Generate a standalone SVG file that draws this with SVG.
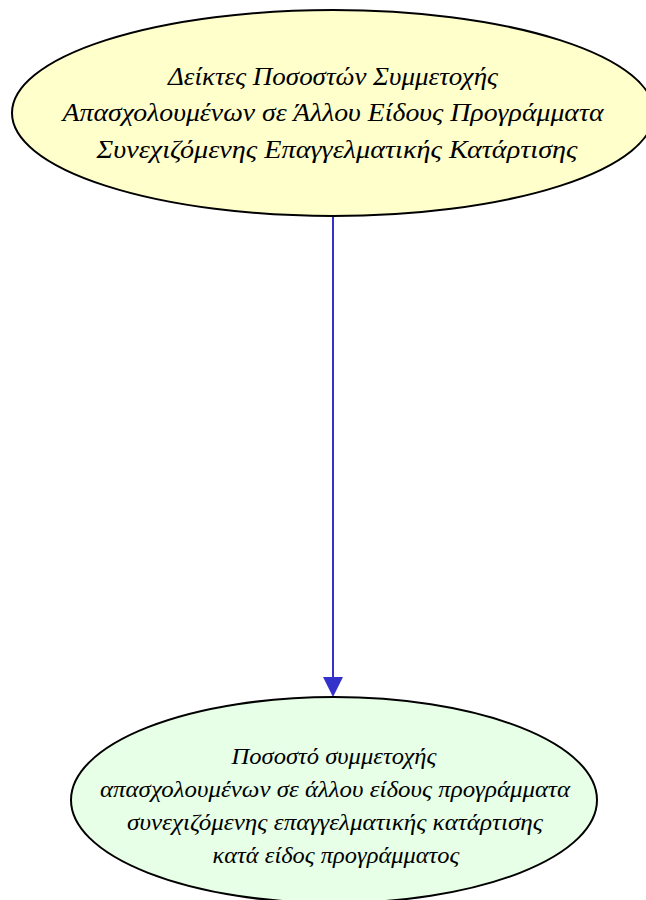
<svg xmlns="http://www.w3.org/2000/svg" width="646" height="900" viewBox="0 0 646 900">
<defs>
<style>
.node{stroke:#000;stroke-width:2}
.lbl{font-family:"Liberation Serif","DejaVu Serif",serif;font-style:italic;fill:#000;text-anchor:middle}
.edge{stroke:#3333cc;stroke-width:2;fill:none}
</style>
</defs>
<rect width="646" height="900" fill="#fff"/>
<g id="connectors">
<line class="edge" x1="333" y1="216" x2="333" y2="678"/>
<path d="M323,677 L343,677 L333,697 Z" fill="#3333cc"/>
</g>
<g id="node1">
<ellipse class="node" cx="333" cy="113" rx="321" ry="103" fill="#ffffcc"/>
<text class="lbl" font-size="26" x="333" y="85" textLength="330" lengthAdjust="spacingAndGlyphs">Δείκτες Ποσοστών Συμμετοχής</text>
<text class="lbl" font-size="26" x="333" y="121" textLength="541" lengthAdjust="spacingAndGlyphs">Απασχολουμένων σε Άλλου Είδους Προγράμματα</text>
<text class="lbl" font-size="26" x="337" y="158" textLength="481" lengthAdjust="spacingAndGlyphs">Συνεχιζόμενης Επαγγελματικής Κατάρτισης</text>
</g>
<g id="node2">
<ellipse class="node" cx="334" cy="800" rx="263" ry="103" fill="#e6ffe6"/>
<text class="lbl" font-size="24" x="334" y="764" textLength="205" lengthAdjust="spacingAndGlyphs">Ποσοστό συμμετοχής</text>
<text class="lbl" font-size="24" x="335" y="797" textLength="470" lengthAdjust="spacingAndGlyphs">απασχολουμένων σε άλλου είδους προγράμματα</text>
<text class="lbl" font-size="24" x="335" y="830" textLength="416" lengthAdjust="spacingAndGlyphs">συνεχιζόμενης επαγγελματικής κατάρτισης</text>
<text class="lbl" font-size="24" x="336" y="863" textLength="247" lengthAdjust="spacingAndGlyphs">κατά είδος προγράμματος</text>
</g>
</svg>
